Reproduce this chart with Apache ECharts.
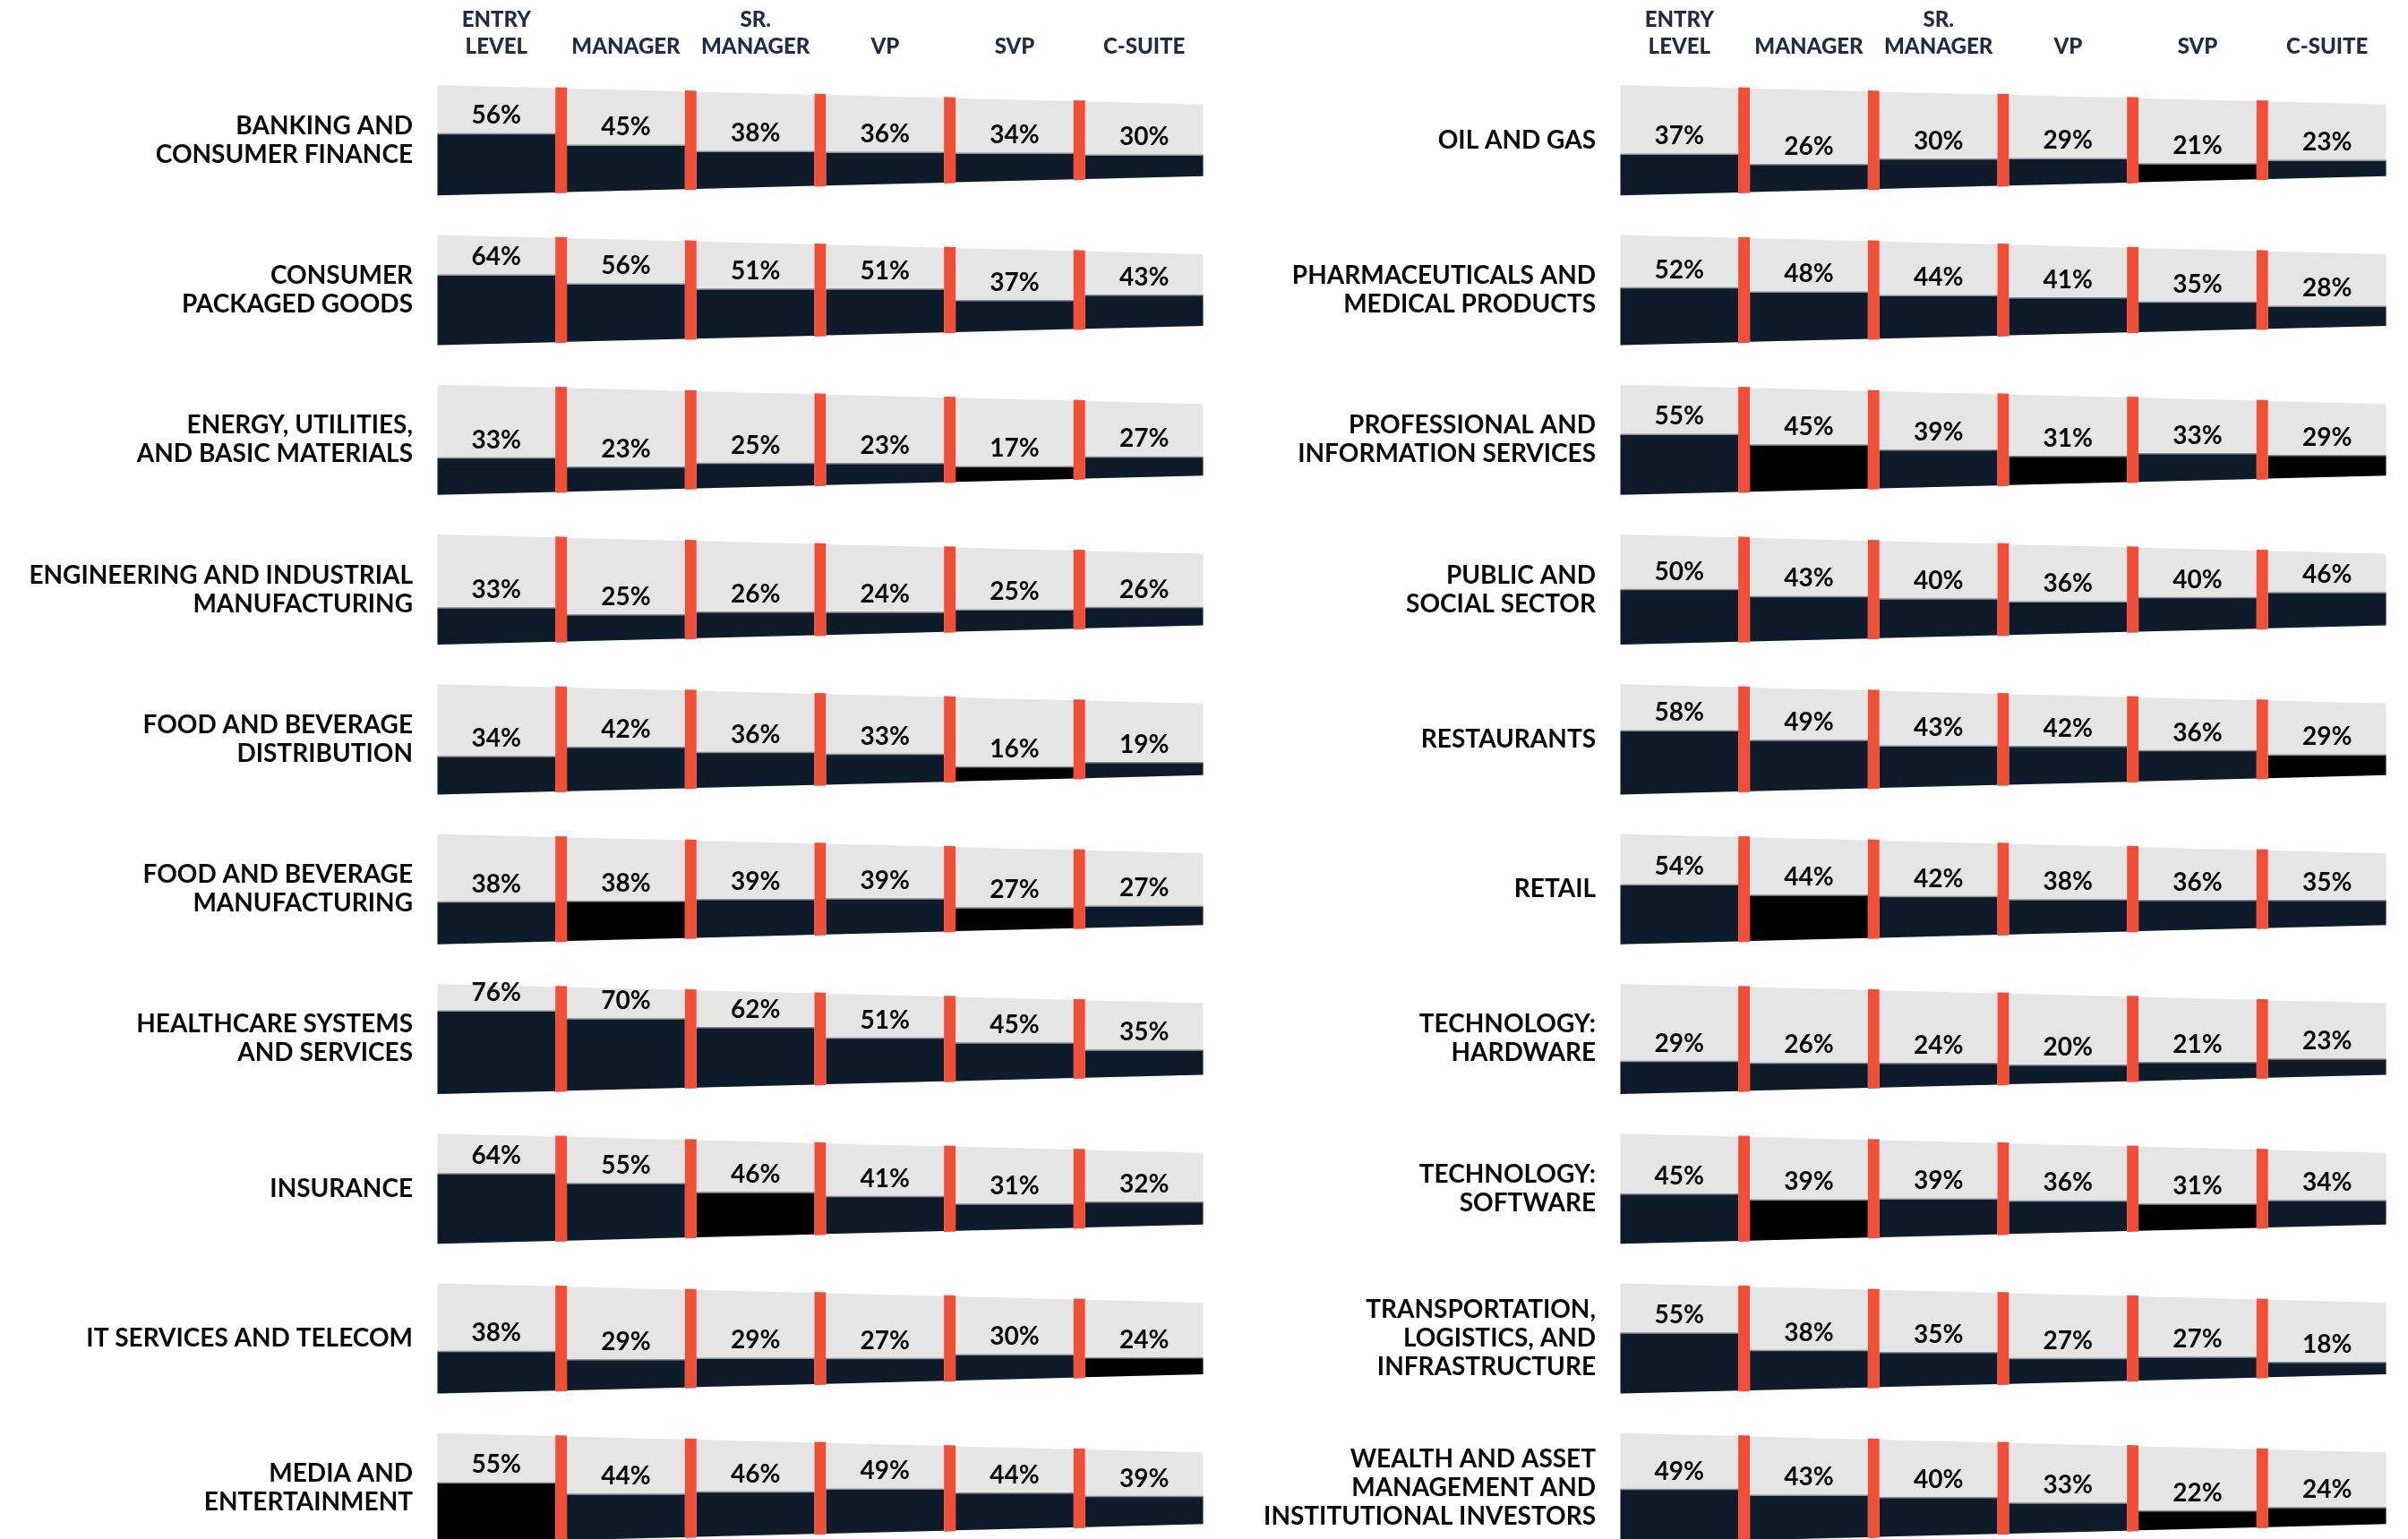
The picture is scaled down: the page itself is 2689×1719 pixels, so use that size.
<!DOCTYPE html>
<html>
<head>
<meta charset="utf-8">
<script src="https://cdn.jsdelivr.net/npm/echarts@6/dist/echarts.min.js"></script>
<style>
  html, body { margin: 0; padding: 0; background: #fff; }
  #chart { width: 2689px; height: 1719px; }
</style>
</head>
<body>
<div id="chart"></div>
<script>
// career levels (column headers)
const levels = ['ENTRY\nLEVEL', 'MANAGER', 'SR.\nMANAGER', 'VP', 'SVP', 'C-SUITE']

const leftIndustries = [
  'BANKING AND\nCONSUMER FINANCE',
  'CONSUMER\nPACKAGED GOODS',
  'ENERGY, UTILITIES,\nAND BASIC MATERIALS',
  'ENGINEERING AND INDUSTRIAL\nMANUFACTURING',
  'FOOD AND BEVERAGE\nDISTRIBUTION',
  'FOOD AND BEVERAGE\nMANUFACTURING',
  'HEALTHCARE SYSTEMS\nAND SERVICES',
  'INSURANCE',
  'IT SERVICES AND TELECOM',
  'MEDIA AND\nENTERTAINMENT'
]
const leftValues = [
  [56, 45, 38, 36, 34, 30],
  [64, 56, 51, 51, 37, 43],
  [33, 23, 25, 23, 17, 27],
  [33, 25, 26, 24, 25, 26],
  [34, 42, 36, 33, 16, 19],
  [38, 38, 39, 39, 27, 27],
  [76, 70, 62, 51, 45, 35],
  [64, 55, 46, 41, 31, 32],
  [38, 29, 29, 27, 30, 24],
  [55, 44, 46, 49, 44, 39]
]
// 1 = bar drawn in black instead of navy
const leftFlags = [
  [0, 0, 0, 0, 0, 0],
  [0, 0, 0, 0, 0, 0],
  [0, 0, 0, 0, 1, 0],
  [0, 0, 0, 0, 0, 0],
  [0, 0, 0, 0, 1, 0],
  [0, 1, 0, 0, 1, 0],
  [0, 0, 0, 0, 0, 0],
  [0, 0, 1, 0, 0, 0],
  [0, 0, 0, 0, 0, 1],
  [1, 0, 0, 0, 0, 0]
]

const rightIndustries = [
  'OIL AND GAS',
  'PHARMACEUTICALS AND\nMEDICAL PRODUCTS',
  'PROFESSIONAL AND\nINFORMATION SERVICES',
  'PUBLIC AND\nSOCIAL SECTOR',
  'RESTAURANTS',
  'RETAIL',
  'TECHNOLOGY:\nHARDWARE',
  'TECHNOLOGY:\nSOFTWARE',
  'TRANSPORTATION,\nLOGISTICS, AND\nINFRASTRUCTURE',
  'WEALTH AND ASSET\nMANAGEMENT AND\nINSTITUTIONAL INVESTORS'
]
const rightValues = [
  [37, 26, 30, 29, 21, 23],
  [52, 48, 44, 41, 35, 28],
  [55, 45, 39, 31, 33, 29],
  [50, 43, 40, 36, 40, 46],
  [58, 49, 43, 42, 36, 29],
  [54, 44, 42, 38, 36, 35],
  [29, 26, 24, 20, 21, 23],
  [45, 39, 39, 36, 31, 34],
  [55, 38, 35, 27, 27, 18],
  [49, 43, 40, 33, 22, 24]
]
const rightFlags = [
  [0, 0, 0, 0, 1, 0],
  [0, 0, 0, 0, 0, 0],
  [0, 1, 0, 1, 0, 1],
  [0, 0, 0, 0, 0, 0],
  [0, 0, 0, 0, 0, 1],
  [0, 1, 0, 0, 0, 0],
  [0, 0, 0, 0, 0, 0],
  [0, 1, 0, 0, 1, 0],
  [0, 0, 0, 0, 0, 0],
  [0, 0, 0, 0, 1, 1]
]

const FONT = 'Lato'
const GRAY = '#e5e5e5'
const NAVY = '#0d1b2b'
const BLACK = '#000000'
const RED = '#f04e37'
const SEP = 13 // width of the red divider

function toItems(values, flags) {
  const out = []
  values.forEach((row, r) => {
    row.forEach((v, c) => out.push([c, r, v, flags[r][c]]))
  })
  return out
}

function renderItem(params, api) {
  const col = api.value(0)
  const v = api.value(2)
  const flag = api.value(3)
  const p = api.coord([col, api.value(1)])
  const bw = api.size([1, 0])[0]
  const bh = api.size([0, 1])[1]
  const cs = params.coordSys
  const xl = cs.x + SEP / 2
  const xr = cs.x + cs.width - SEP / 2
  const cy = p[1]
  // the band tapers from left to right
  const half = x => bh * (0.368 - 0.129 * (x - xl) / (xr - xl))
  const x0 = p[0] - bw / 2 + SEP / 2
  const x1 = p[0] + bw / 2 - SEP / 2
  const base = cy + half(p[0])
  const top = base - v / 100 * 2 * half(p[0])

  const children = [
    {
      type: 'polygon',
      shape: { points: [[x0, cy - half(x0)], [x1, cy - half(x1)], [x1, cy + half(x1)], [x0, cy + half(x0)]] },
      style: { fill: GRAY }
    },
    {
      type: 'polygon',
      shape: { points: [[x0, top], [x1, top], [x1, cy + half(x1)], [x0, cy + half(x0)]] },
      style: { fill: flag ? BLACK : NAVY }
    },
    {
      type: 'line',
      shape: { x1: x0, y1: top, x2: x1, y2: top },
      style: { stroke: '#8a9199', lineWidth: 1.5 }
    },
    {
      type: 'text',
      x: p[0],
      y: top - 20,
      style: {
        text: v + '%',
        fill: '#0a0a0a',
        font: 'bold 28px ' + FONT,
        align: 'center',
        verticalAlign: 'middle'
      }
    }
  ]
  if (col < 5) {
    const s0 = x1, s1 = x1 + SEP
    children.push({
      type: 'polygon',
      shape: { points: [[s0, cy - half(s0) - 1], [s1, cy - half(s1) - 1], [s1, cy + half(s1) + 1], [s0, cy + half(s0) + 1]] },
      style: { fill: RED }
    })
  }
  return { type: 'group', children }
}

const chart = echarts.init(document.getElementById('chart'))

// grid runs a little past the bottom edge, like the original crop
const gridBase = { top: 73, height: 1673, width: 868, outerBoundsMode: 'none', containLabel: false }

function xAxisFor(i) {
  return {
    gridIndex: i,
    type: 'category',
    data: levels,
    position: 'top',
    axisLine: { show: false },
    axisTick: { show: false },
    splitLine: { show: false },
    axisLabel: {
      interval: 0,
      margin: 6,
      color: '#1f2b47',
      fontFamily: FONT,
      fontWeight: 900,
      fontSize: 24,
      lineHeight: 30
    }
  }
}

function yAxisFor(i, names) {
  return {
    gridIndex: i,
    type: 'category',
    data: names,
    inverse: true,
    axisLine: { show: false },
    axisTick: { show: false },
    splitLine: { show: false },
    axisLabel: {
      interval: 0,
      margin: 21,
      color: '#0a0a0a',
      fontFamily: FONT,
      fontWeight: 'bold',
      fontSize: 28,
      lineHeight: 32,
      align: 'right'
    }
  }
}

chart.setOption({
  backgroundColor: '#ffffff',
  animation: false,
  grid: [
    Object.assign({ left: 482 }, gridBase),
    Object.assign({ left: 1803 }, gridBase)
  ],
  xAxis: [xAxisFor(0), xAxisFor(1)],
  yAxis: [yAxisFor(0, leftIndustries), yAxisFor(1, rightIndustries)],
  series: [
    {
      type: 'custom',
      xAxisIndex: 0,
      yAxisIndex: 0,
      renderItem: renderItem,
      encode: { x: 0, y: 1 },
      data: toItems(leftValues, leftFlags)
    },
    {
      type: 'custom',
      xAxisIndex: 1,
      yAxisIndex: 1,
      renderItem: renderItem,
      encode: { x: 0, y: 1 },
      data: toItems(rightValues, rightFlags)
    }
  ]
})
</script>
</body>
</html>
